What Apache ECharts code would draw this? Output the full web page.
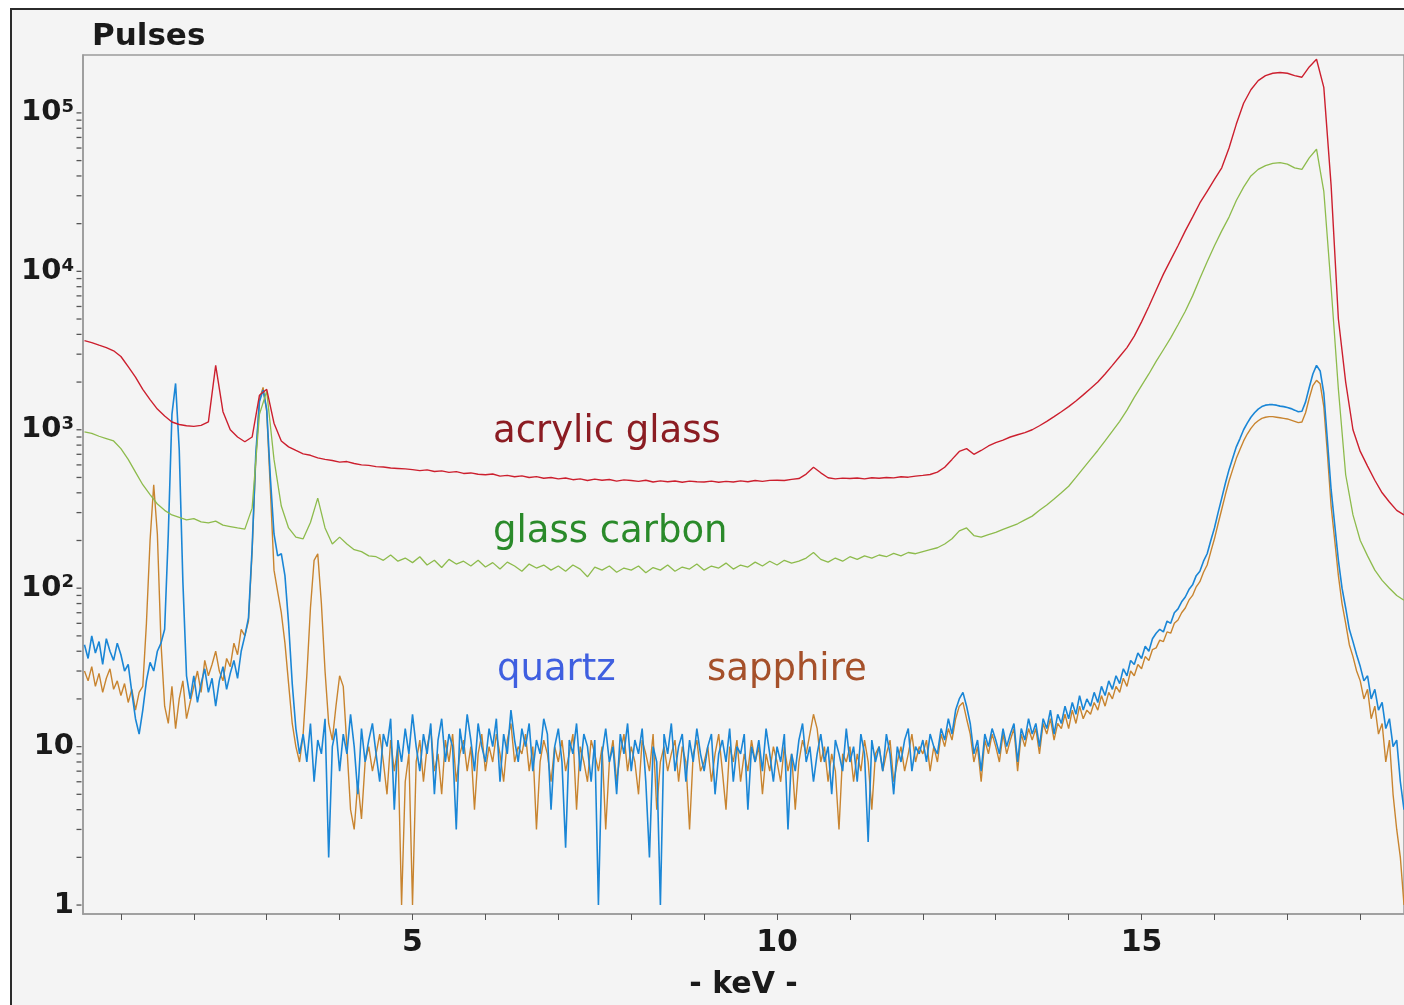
<!DOCTYPE html>
<html>
<head>
<meta charset="utf-8">
<title>Pulses - keV</title>
<script src="https://cdn.jsdelivr.net/npm/echarts@6/dist/echarts.min.js"></script>
<style>
    html, body { margin: 0; padding: 0; background: #fff; }
    #main { width: 1404px; height: 1005px; }
</style>
</head>
<body>
<div id="main"></div>
<script>
// spectra, counts per channel; channels start at 0.5 keV
var E_START = 0.5;
var STEP_FINE = 0.05;   // quartz, sapphire
var STEP_COARSE = 0.1;  // acrylic glass, glass carbon

var acrylicGlass = [
    3650, 3550, 3420, 3300, 3150,
    2900, 2500, 2150, 1800, 1550, 1350, 1220, 1120, 1080, 1060,
    1050, 1065, 1120, 2550, 1300, 1000, 900, 840, 900, 1650,
    1800, 1100, 850, 780, 740, 705, 690, 665, 650, 640,
    625, 630, 612, 600, 596, 585, 582, 574, 570, 566,
    560, 552, 558, 545, 550, 538, 544, 530, 534, 524,
    520, 526, 510, 515, 505, 512, 500, 506, 494, 500,
    490, 496, 484, 490, 478, 488, 480, 485, 474, 483,
    478, 472, 480, 468, 476, 470, 475, 466, 474, 470,
    468, 474, 466, 472, 468, 476, 470, 478, 472, 479,
    480, 478, 486, 492, 525, 580, 535, 498, 490, 495,
    492, 496, 490, 498, 494, 500, 497, 505, 502, 510,
    515, 522, 540, 580, 650, 730, 760, 700, 740, 790,
    830, 860, 900, 930, 960, 1000, 1060, 1130, 1210, 1300,
    1400, 1520, 1660, 1820, 2000, 2250, 2550, 2900, 3300, 3900,
    4800, 6000, 7600, 9600, 11800, 14500, 18000, 22000, 27000, 32000,
    38000, 45000, 60000, 85000, 115000, 140000, 160000, 172000, 178000, 180000,
    178000, 172000, 168000, 195000, 218000, 145000, 35000, 5000, 2000, 1000,
    730, 590, 480, 400, 350, 310, 290
];

var glassCarbon = [
    970, 950, 910, 880, 850,
    760, 650, 540, 450, 390, 340, 310, 290, 280, 270,
    275, 262, 258, 265, 250, 245, 240, 236, 320, 1250,
    1750, 650, 330, 240, 210, 205, 260, 370, 240, 190,
    210, 190, 175, 170, 160, 158, 150, 162, 148, 155,
    145, 158, 140, 150, 135, 152, 142, 148, 138, 150,
    136, 145, 132, 146, 138, 128, 142, 134, 140, 130,
    138, 128, 140, 132, 118, 136, 130, 138, 126, 134,
    130, 138, 125, 135, 130, 140, 128, 136, 132, 142,
    130, 138, 134, 144, 132, 140, 136, 146, 138, 148,
    140, 150, 144, 148, 155, 168, 152, 146, 155, 148,
    158, 152, 160, 155, 162, 158, 166, 160, 168, 165,
    170, 175, 180, 190, 205, 230, 240, 215, 210, 218,
    225, 235, 245, 255, 270, 285, 310, 335, 365, 400,
    440, 500, 570, 650, 740, 850, 980, 1130, 1330, 1600,
    1900, 2250, 2700, 3200, 3800, 4600, 5600, 7000, 9000, 11500,
    14500, 18000, 22000, 28000, 34000, 40000, 44000, 46500, 48000, 48500,
    47500, 45000, 44000, 52000, 59000, 32000, 8000, 1800, 520, 290,
    200, 160, 130, 112, 100, 90, 84
];

var quartz = [
    44, 36, 50, 39, 46, 33, 48, 40, 35, 45,
    38, 30, 33, 22, 15, 12, 17, 26, 34, 30,
    40, 45, 55, 220, 1250, 1960, 750, 110, 28, 20,
    28, 19, 25, 31, 22, 27, 18, 26, 32, 23,
    29, 35, 27, 40, 50, 65, 180, 700, 1500, 1780,
    1350, 500, 220, 160, 165, 120, 60, 25, 13, 9,
    12, 8, 14, 6, 11, 9, 15, 2, 10, 13,
    7, 12, 9, 16, 10, 5, 13, 8, 11, 14,
    9, 6, 12, 10, 15, 4, 11, 8, 13, 9,
    16, 10, 7, 12, 9, 14, 5, 11, 15, 8,
    12, 10, 3, 13, 9, 16, 11, 7, 14, 10,
    8, 13, 10, 15, 6, 12, 9, 17, 11, 8,
    13, 10, 14, 7, 11, 9, 15, 12, 4, 10,
    13, 8, 2.3, 11, 9, 14, 7, 12, 10, 6,
    11, 1, 9, 13, 8, 10, 5, 12, 9, 14,
    7, 11, 9, 13, 6, 2, 10, 8, 1, 12,
    9, 14, 7, 10, 12, 6, 11, 8, 13, 9,
    7, 10, 12, 5, 9, 11, 8, 13, 6, 10,
    9, 12, 4, 10, 8, 11, 7, 13, 9, 6,
    10, 8, 12, 3, 9, 7, 11, 14, 8, 10,
    6, 9, 12, 8, 10, 5, 11, 9, 7, 13,
    8, 10, 6, 12, 9, 2.5, 11, 8, 10, 7,
    12, 9, 5, 10, 8, 11, 13, 7, 10, 9,
    11, 8, 12, 10, 9, 13, 11, 15, 12, 17,
    20, 22, 18, 14, 9, 11, 7, 12, 10, 13,
    11, 9, 13, 10, 12, 14, 8, 13, 11, 15,
    12, 14, 10, 15, 13, 17, 12, 16, 14, 18,
    15, 19, 16, 21, 17, 20, 18, 22, 19, 24,
    21, 26, 23, 28, 25, 31, 28, 35, 33, 39,
    36, 43, 40, 48, 52, 55, 53, 62, 60, 70,
    74, 82, 88, 98, 105, 120, 128, 148, 165, 200,
    240, 300, 370, 460, 560, 660, 780, 880, 1000, 1100,
    1200, 1280, 1350, 1400, 1430, 1440, 1440, 1430, 1410, 1400,
    1380, 1360, 1330, 1300, 1310, 1500, 1850, 2250, 2550, 2350,
    1700, 850, 420, 250, 150, 100, 75, 55, 46, 38,
    32, 26, 28, 20, 23, 17, 19, 13, 15, 10,
    11, 6, 4
];

var sapphire = [
    30, 26, 32, 24, 29, 22, 27, 31, 23, 26,
    21, 25, 19, 23, 17, 22, 24, 60, 200, 450,
    220, 45, 18, 14, 24, 13, 20, 26, 15, 19,
    24, 30, 22, 35, 28, 33, 40, 30, 26, 36,
    32, 45, 38, 55, 50, 62, 170, 650, 1550, 1850,
    1300, 420, 130, 95, 70, 45, 25, 14, 10, 8,
    12, 28, 75, 150, 165, 80, 30, 14, 11, 18,
    28, 24, 10, 4, 3, 6, 3.5, 8, 10, 7,
    9, 12, 8, 5, 11, 7, 10, 1, 6, 9,
    1, 8, 11, 6, 10, 13, 7, 9, 5, 11,
    8, 12, 6, 9, 11, 7, 10, 4, 9, 12,
    7, 10, 8, 12, 9, 6, 11, 14, 8, 10,
    9, 12, 7, 10, 3, 8, 11, 9, 6, 10,
    8, 11, 7, 9, 12, 4, 10, 8, 6, 11,
    9, 7, 10, 3, 8, 11, 6, 9, 12, 7,
    10, 8, 5, 11, 9, 7, 12, 4, 8, 10,
    7, 9, 11, 6, 10, 8, 3, 9, 11, 7,
    8, 10, 6, 9, 12, 7, 4, 10, 8, 11,
    6, 9, 7, 11, 8, 10, 5, 9, 7, 10,
    8, 6, 10, 7, 9, 4, 8, 11, 9, 12,
    16, 13, 8, 10, 6, 9, 7, 3, 9, 8,
    10, 6, 9, 7, 11, 8, 4, 9, 10, 7,
    9, 11, 6, 8, 10, 7, 9, 12, 8, 10,
    9, 11, 7, 10, 8, 12, 10, 13, 11, 15,
    18, 19, 15, 12, 8, 10, 6, 11, 9, 12,
    10, 8, 12, 9, 11, 13, 7, 12, 10, 13,
    11, 13, 9, 14, 12, 15, 11, 14, 13, 16,
    13, 17, 14, 18, 15, 17, 16, 19, 17, 21,
    18, 22, 20, 24, 22, 27, 24, 30, 28, 33,
    31, 37, 35, 41, 42, 47, 46, 53, 52, 60,
    63, 70, 75, 84, 90, 102, 110, 126, 140, 170,
    205, 255, 315, 390, 475, 560, 660, 750, 850, 940,
    1020, 1090, 1140, 1180, 1200, 1210, 1210, 1200, 1190, 1180,
    1170, 1150, 1130, 1110, 1120, 1280, 1580, 1900, 2050, 1950,
    1400, 700, 330, 200, 120, 80, 60, 44, 37, 30,
    26, 20, 23, 15, 18, 12, 14, 8, 11, 5,
    3, 2, 1
];

// axes
var X_MIN = 0.48, X_MAX = 18.6;
var Y_MIN = 0.878, Y_MAX = 232000;
var xTickValues = [1, 2, 3, 4, 5, 6, 7, 8, 9, 10, 11, 12, 13, 14, 15, 16, 17, 18];
var xLabelValues = [5, 10, 15];
var yTickMantissas = [1, 2, 3, 4, 5, 6, 7, 8, 9];
var yDecades = [1, 10, 100, 1000, 10000, 100000];

// log-axis ticks at 1..9 x 10^n (drawn as tiny marks, the log axis ignores customValues)
var yTickValues = [];
yDecades.forEach(function (d) {
    yTickMantissas.forEach(function (m) {
        if (m * d <= 100000) yTickValues.push(m * d);
    });
});

function toPairs(values, step) {
    return values.map(function (v, i) {
        return [Math.round((E_START + i * step) * 100) / 100, v];
    });
}

function lineSeries(name, values, step, color, width) {
    return {
        name: name,
        type: 'line',
        data: toPairs(values, step),
        symbol: 'none',
        showSymbol: false,
        lineStyle: { color: color, width: width },
        itemStyle: { color: color },
        emphasis: { disabled: true }
    };
}

var FONT = 'DejaVu Sans';

var myChart = echarts.init(document.getElementById('main'));
var option = {
    backgroundColor: '#f4f4f4',
    animation: false,
    textStyle: { fontFamily: FONT },
    grid: {
        left: 83, top: 55, right: -2, bottom: 88,
        show: true, backgroundColor: '#f4f4f4',
        borderColor: '#9a9a9a', borderWidth: 1.5
    },
    graphic: [
        { type: 'rect', shape: { x: 0, y: 0, width: 1404, height: 8 }, style: { fill: '#fff' } },
        { type: 'rect', shape: { x: 0, y: 0, width: 10, height: 1005 }, style: { fill: '#fff' } },
        { type: 'polyline', shape: { points: [[11, 1005], [11, 9], [1404, 9]] },
          style: { stroke: '#2b2b2b', lineWidth: 2, fill: null } },
        { type: 'text', x: 493, y: 432, z: 100,
          style: { text: 'acrylic glass', font: '37px "DejaVu Sans"', fill: '#8b1c22', verticalAlign: 'middle' } },
        { type: 'text', x: 493, y: 532, z: 100,
          style: { text: 'glass carbon', font: '37px "DejaVu Sans"', fill: '#2a8a2a', verticalAlign: 'middle' } },
        { type: 'text', x: 497, y: 670, z: 100,
          style: { text: 'quartz', font: '37px "DejaVu Sans"', fill: '#3f5fe0', verticalAlign: 'middle' } },
        { type: 'text', x: 707, y: 670, z: 100,
          style: { text: 'sapphire', font: '37px "DejaVu Sans"', fill: '#a5502a', verticalAlign: 'middle' } }
    ],
    xAxis: {
        type: 'value',
        min: X_MIN,
        max: X_MAX,
        name: '- keV -',
        nameLocation: 'middle',
        nameGap: 56,
        nameTextStyle: { fontFamily: FONT, fontWeight: 'bold', fontSize: 30, color: '#1a1a1a' },
        axisLine: { show: true, lineStyle: { color: '#9a9a9a', width: 1.5 } },
        axisTick: { show: true, length: 6, customValues: xTickValues, lineStyle: { color: '#555' } },
        axisLabel: { customValues: xLabelValues, margin: 14, fontFamily: FONT, fontWeight: 'bold', fontSize: 30, color: '#1a1a1a' },
        splitLine: { show: false }
    },
    yAxis: {
        type: 'log',
        logBase: 10,
        min: Y_MIN,
        max: Y_MAX,
        name: 'Pulses',
        nameLocation: 'end',
        nameGap: 3,
        nameTextStyle: {
            fontFamily: FONT, fontWeight: 'bold', fontSize: 31, color: '#1a1a1a',
            align: 'left', verticalAlign: 'bottom', padding: [0, 0, 0, 9]
        },
        axisLine: { show: true, lineStyle: { color: '#9a9a9a', width: 1.5 } },
        axisTick: { show: false },
        axisLabel: {
            margin: 9,
            fontFamily: FONT, fontWeight: 'bold', fontSize: 29, color: '#1a1a1a',
            formatter: function (v) {
                var e = Math.log10(v);
                var n = Math.round(e);
                if (Math.abs(e - n) > 1e-6) return '';
                if (n === 0) return '1';
                if (n === 1) return '10';
                return '10{sup|' + n + '}';
            },
            rich: {
                sup: { fontFamily: FONT, fontWeight: 'bold', fontSize: 18, color: '#1a1a1a', verticalAlign: 'top', padding: [0, 0, 4, 0] }
            }
        },
        splitLine: { show: false }
    },
    series: [
        {
            name: 'y ticks',
            type: 'scatter',
            silent: true,
            clip: false,
            data: yTickValues.map(function (v) { return [X_MIN, v]; }),
            symbol: 'rect',
            symbolSize: [5, 1.3],
            symbolOffset: [-4, 0],
            itemStyle: { color: '#555', opacity: 1 },
            emphasis: { disabled: true },
            z: 5
        },
        lineSeries('sapphire', sapphire, STEP_FINE, '#c8842f', 1.4),
        lineSeries('quartz', quartz, STEP_FINE, '#1a86d6', 1.6),
        lineSeries('glass carbon', glassCarbon, STEP_COARSE, '#8dbb4c', 1.3),
        lineSeries('acrylic glass', acrylicGlass, STEP_COARSE, '#cc1f2e', 1.4)
    ]
};
myChart.setOption(option, true);
</script>
</body>
</html>
